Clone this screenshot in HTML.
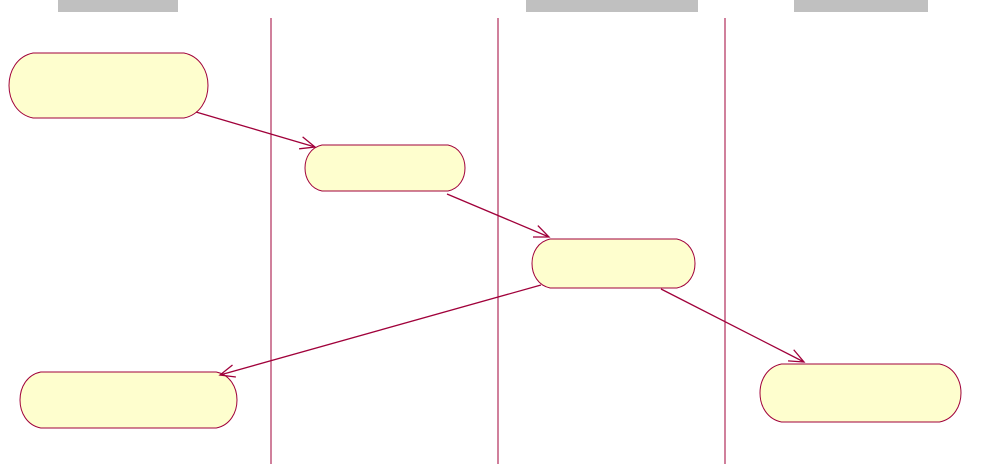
<!DOCTYPE html>
<html><head><meta charset="utf-8"><style>
html,body{margin:0;padding:0;background:#fff;width:994px;height:464px;overflow:hidden;font-family:"Liberation Sans",sans-serif}
</style></head><body>
<svg id="d" width="994" height="464" viewBox="0 0 994 464" xmlns="http://www.w3.org/2000/svg">
</svg>
<script>
const headers=[[58,178],[526,698],[794,928]];
const lanes=[271,498,725];
const nodes=[[9,53,199,65],[305,145,160,46],[532,239,163,49],[20,372,217,56],[760,364,201,58]];
const edges=[[196,112,315,147],[447,194,549,237],[541,285,220,375],[661,289,804,362]];
const svg=document.getElementById('d');
const NS='http://www.w3.org/2000/svg';
const C='#a0003a';
function mk(t,a){const e=document.createElementNS(NS,t);for(const k in a)e.setAttribute(k,a[k]);svg.appendChild(e);return e;}
headers.forEach((h,i)=>{
 const e=mk('rect',{x:h[0],y:0,width:h[1]-h[0],height:12,fill:'#c0c0c0'});
 
 
});
lanes.forEach((x,i)=>{
 const e=mk('line',{x1:x,y1:18,x2:x,y2:464,stroke:C,'stroke-width':1});
 
 
});
nodes.forEach((n,i)=>{
 const [x,y,w,h]=n;const r=h*0.37;const X=r/0.75;
 const d=`M${x+r},${y} H${x+w-r} C${x+w-r+X},${y+h*0.1} ${x+w-r+X},${y+h*0.9} ${x+w-r},${y+h} H${x+r} C${x+r-X},${y+h*0.9} ${x+r-X},${y+h*0.1} ${x+r},${y} Z`;
 const e=mk('path',{d:d,fill:'#fefece',stroke:C,'stroke-width':1});
 
 
});
edges.forEach((s,i)=>{
 const [x1,y1,x2,y2]=s;
 const g=document.createElementNS(NS,'g');svg.appendChild(g);
 
 
 const l=document.createElementNS(NS,'line');
 [['x1',x1],['y1',y1],['x2',x2],['y2',y2],['stroke',C],['stroke-width',1.3]].forEach(p=>l.setAttribute(p[0],p[1]));
 g.appendChild(l);
 const a=Math.atan2(y2-y1,x2-x1),L=16,sp=0.4;
 const p=`M${x2-L*Math.cos(a-sp)},${y2-L*Math.sin(a-sp)} L${x2},${y2} L${x2-L*Math.cos(a+sp)},${y2-L*Math.sin(a+sp)}`;
 const h=document.createElementNS(NS,'path');
 h.setAttribute('d',p);h.setAttribute('fill','none');h.setAttribute('stroke',C);h.setAttribute('stroke-width',1.3);
 g.appendChild(h);
});
</script>
</body></html>
